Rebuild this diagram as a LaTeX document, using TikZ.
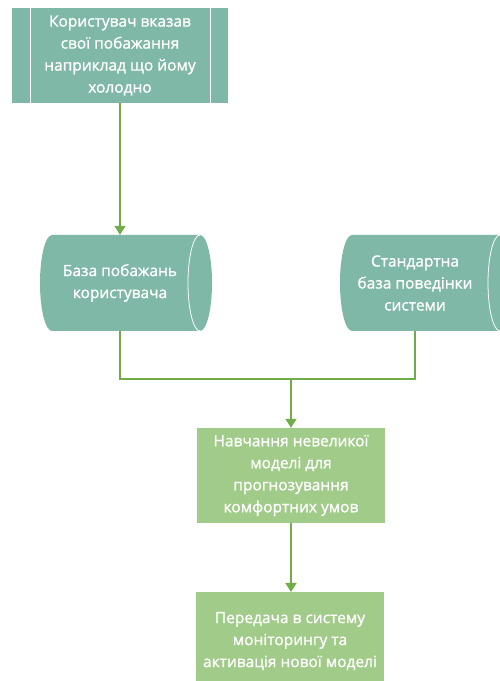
\documentclass[tikz,border=0pt]{standalone}
\usepackage{fontspec}
\setmainfont{Open Sans}[FakeBold=1.2]
\usetikzlibrary{arrows.meta}
\definecolor{tealfill}{RGB}{127,184,166}
\definecolor{greenfill}{RGB}{161,203,137}
\definecolor{linkgreen}{RGB}{112,173,71}
\tikzset{
  x=1pt, y=1pt,
  label text/.style={text=white, font=\fontsize{15.5}{22}\selectfont, align=center},
  process/.style={label text, fill=greenfill, minimum width=188pt, minimum height=95pt, inner sep=0pt},
  storetext/.style={label text, minimum height=96pt, inner sep=0pt},
  link/.style={draw=linkgreen, line width=1.4pt},
  arrowlink/.style={link, -{Triangle[width=11pt,length=9pt]}},
}
\begin{document}
\begin{tikzpicture}
\useasboundingbox (0,0) rectangle (499,681);

% predefined process box with its two inner bars
\node[label text, fill=tealfill, minimum width=216pt, minimum height=95pt, inner sep=0pt] (wish) at (120,625.5)
  {Користувач вказав\\свої побажання\\наприклад що йому\\холодно};
\draw[white, line width=1pt] (30,578) -- (30,673) (210,578) -- (210,673);

% stored-data shapes (horizontal cylinders)
\fill[tealfill] (200,446) -- (52,446) arc[start angle=90, end angle=270, x radius=12, y radius=48]
  -- (200,350) arc[start angle=-90, end angle=90, x radius=12, y radius=48] -- cycle;
\draw[white, line width=0.8pt] (200,446) arc[start angle=90, end angle=270, x radius=12, y radius=48];
\fill[tealfill] (500,446) -- (352,446) arc[start angle=90, end angle=270, x radius=12, y radius=48]
  -- (500,350) arc[start angle=-90, end angle=90, x radius=12, y radius=48] -- cycle;
\draw[white, line width=0.8pt] (500,446) arc[start angle=90, end angle=270, x radius=12, y radius=48];

\node[storetext] (userdb) at (120,398) {База побажань\\користувача};
\node[storetext] (sysdb) at (415,398) {Стандартна\\база поведінки\\системи};

% process steps
\node[process] (train) at (291,205.5) {Навчання невеликої\\моделі для\\прогнозування\\комфортних умов};
\node[process, anchor=north] (deploy) at (290,89) {};
\node[label text] (deploytext) at (290,40) {Передача в систему\\моніторингу та\\активація нової моделі};

% connectors
\coordinate (join) at (291,302);
\draw[arrowlink] (wish.south) -- (userdb.north);
\draw[link] (userdb.south) |- (join) -| (sysdb.south);
\draw[arrowlink] (join) -- (train.north);
\draw[arrowlink] (train.south) -- (train.south |- deploy.north);
\end{tikzpicture}
\end{document}
